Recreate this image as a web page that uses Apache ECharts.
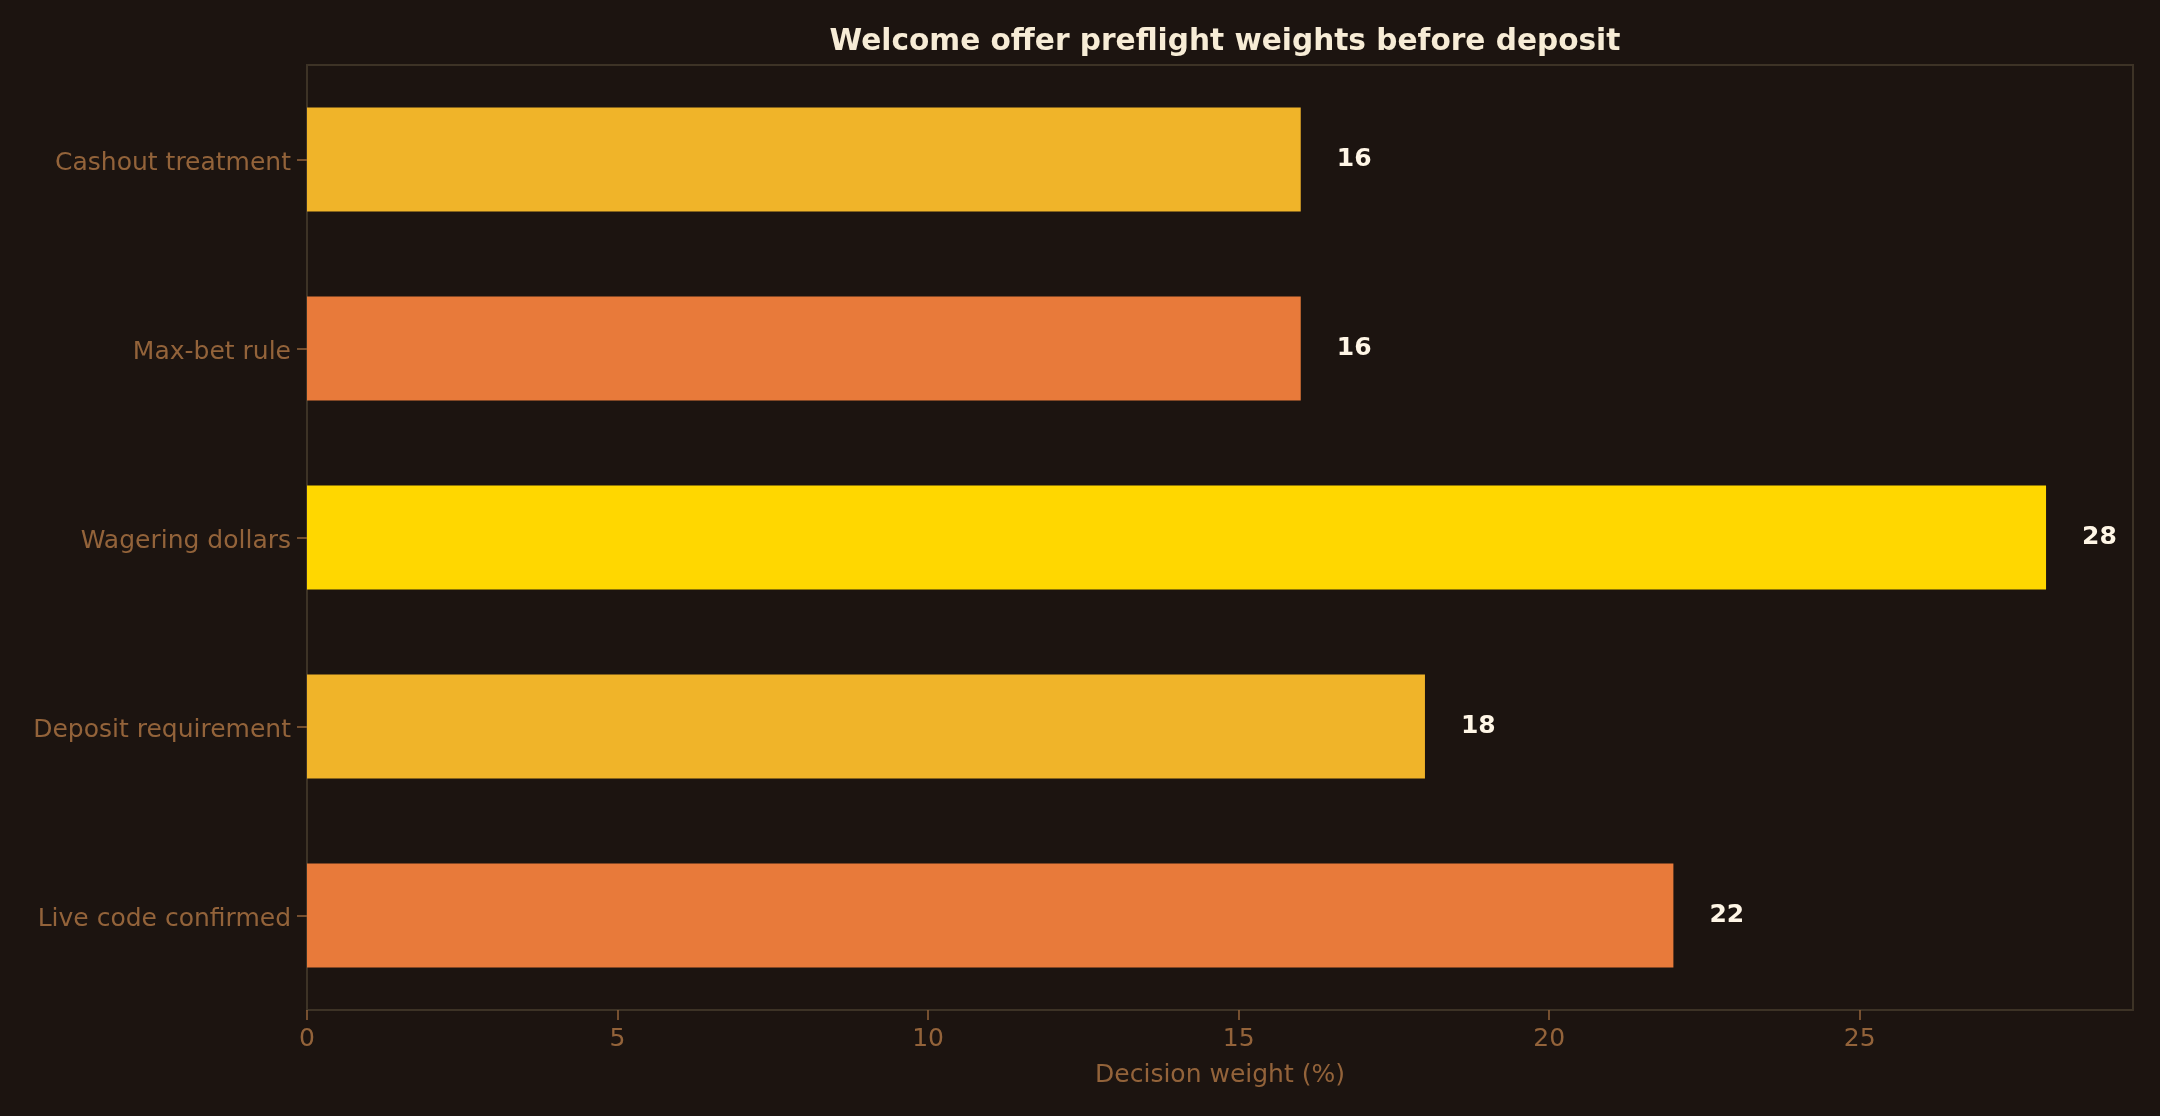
<!doctype html>
<html>
<head>
<meta charset="utf-8">
<title>Welcome offer preflight weights</title>
<script src="https://cdn.jsdelivr.net/npm/echarts@6/dist/echarts.min.js"></script>
<style>
  html, body { margin: 0; padding: 0; background: #1c1410; }
  #chart { width: 2160px; height: 1116px; }
</style>
</head>
<body>
<div id="chart"></div>
<script>
// bottom to top, as the category axis draws them
var categories = ['Live code confirmed', 'Deposit requirement', 'Wagering dollars', 'Max-bet rule', 'Cashout treatment'];
var weights = [22, 18, 28, 16, 16];
var barColors = ['#e87a3a', '#f0b429', '#ffd700', '#e87a3a', '#f0b429'];
var xTicks = [0, 5, 10, 15, 20, 25];

var labelColor = '#93633a';
var spineColor = '#3d3326';
var font = 'DejaVu Sans';

var chart = echarts.init(document.getElementById('chart'));

var option = {
  backgroundColor: '#1c1410',
  animation: false,
  title: {
    text: 'Welcome offer preflight weights before deposit',
    left: 1220,
    top: 22,
    textAlign: 'center',
    textStyle: { color: '#f7ecd6', fontFamily: font, fontWeight: 'bold', fontSize: 29.6 }
  },
  grid: {
    left: 307, right: 27, top: 65, bottom: 106,
    show: true, borderColor: spineColor, borderWidth: 2, backgroundColor: 'transparent'
  },
  xAxis: {
    type: 'value',
    min: 0,
    max: 29.4,
    interval: 5,
    name: 'Decision weight (%)',
    nameLocation: 'middle',
    nameGap: 53,
    nameTextStyle: { color: labelColor, fontFamily: font, fontSize: 25 },
    axisLine: { show: true, lineStyle: { color: spineColor, width: 2 } },
    axisTick: { show: true, length: 10, customValues: xTicks, lineStyle: { color: labelColor, width: 1.5 } },
    axisLabel: { customValues: xTicks, margin: 17, color: labelColor, fontFamily: font, fontSize: 25 },
    splitLine: { show: false }
  },
  yAxis: {
    type: 'category',
    data: categories,
    axisLine: { show: true, lineStyle: { color: spineColor, width: 2 } },
    axisTick: { show: true, alignWithLabel: true, length: 10, lineStyle: { color: labelColor, width: 1.5 } },
    axisLabel: {
      margin: 16, verticalAlign: 'top', lineHeight: 8,
      color: labelColor, fontFamily: font, fontSize: 25
    },
    splitLine: { show: false }
  },
  series: [{
    type: 'bar',
    barWidth: '55%',
    data: weights.map(function (v, i) {
      return { value: v, itemStyle: { color: barColors[i] } };
    }),
    label: {
      show: true,
      position: 'right',
      distance: 36,
      color: '#fff6e6',
      fontFamily: font,
      fontWeight: 'bold',
      fontSize: 25
    }
  }]
};

chart.setOption(option);
</script>
</body>
</html>
